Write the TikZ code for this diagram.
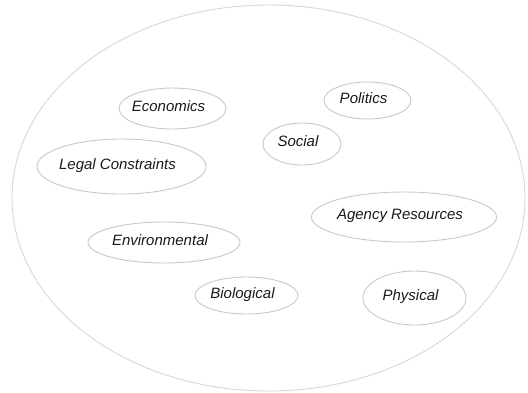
\documentclass[tikz,border=0pt]{standalone}
\usepackage{fontspec}
\setmainfont{Liberation Sans}
\usetikzlibrary{shapes.geometric}
\definecolor{rim}{RGB}{200,200,200}
\definecolor{outerrim}{RGB}{215,215,215}
\definecolor{ink}{RGB}{25,25,25}
\begin{document}
\begin{tikzpicture}[x=1pt,y=-1pt,
  bubble/.style={draw=rim, line width=0.9pt, ellipse, inner sep=0pt},
  lbl/.style={text=ink, inner sep=0pt, text height=10.7pt, text depth=0pt,
    font=\fontsize{15}{18}\selectfont\itshape},
  tag/.style={shift={(-4,-2.6)}}]
\useasboundingbox (0,0) rectangle (528,392);
% enclosing context
\node[bubble, draw=outerrim, minimum width=513pt, minimum height=386pt] (ctx) at (268.5,198) {};
% factor bubbles
\node[bubble, minimum width=107pt, minimum height=41pt] (econ) at (172.5,108.5) {};
\node[bubble, minimum width=87pt, minimum height=37pt] (pol) at (367.5,100.5) {};
\node[bubble, minimum width=78pt, minimum height=42pt] (soc) at (302,144) {};
\node[bubble, minimum width=169pt, minimum height=55pt] (legal) at (121.5,166.5) {};
\node[bubble, minimum width=185pt, minimum height=50pt] (agency) at (404,217) {};
\node[bubble, minimum width=152pt, minimum height=41pt] (env) at (164,242.5) {};
\node[bubble, minimum width=103pt, minimum height=37pt] (bio) at (246.5,295.5) {};
\node[bubble, minimum width=103pt, minimum height=54pt] (phys) at (414.5,298) {};
% labels
\node[lbl] (econ-t) at ([tag]econ.center) {Economics};
\node[lbl] (pol-t) at ([tag]pol.center) {Politics};
\node[lbl] (soc-t) at ([tag]soc.center) {Social};
\node[lbl] (legal-t) at ([tag]legal.center) {Legal Constraints};
\node[lbl] (agency-t) at ([tag]agency.center) {Agency Resources};
\node[lbl] (env-t) at ([tag]env.center) {Environmental};
\node[lbl] (bio-t) at ([tag]bio.center) {Biological};
\node[lbl] (phys-t) at ([tag]phys.center) {Physical};
\end{tikzpicture}
\end{document}
